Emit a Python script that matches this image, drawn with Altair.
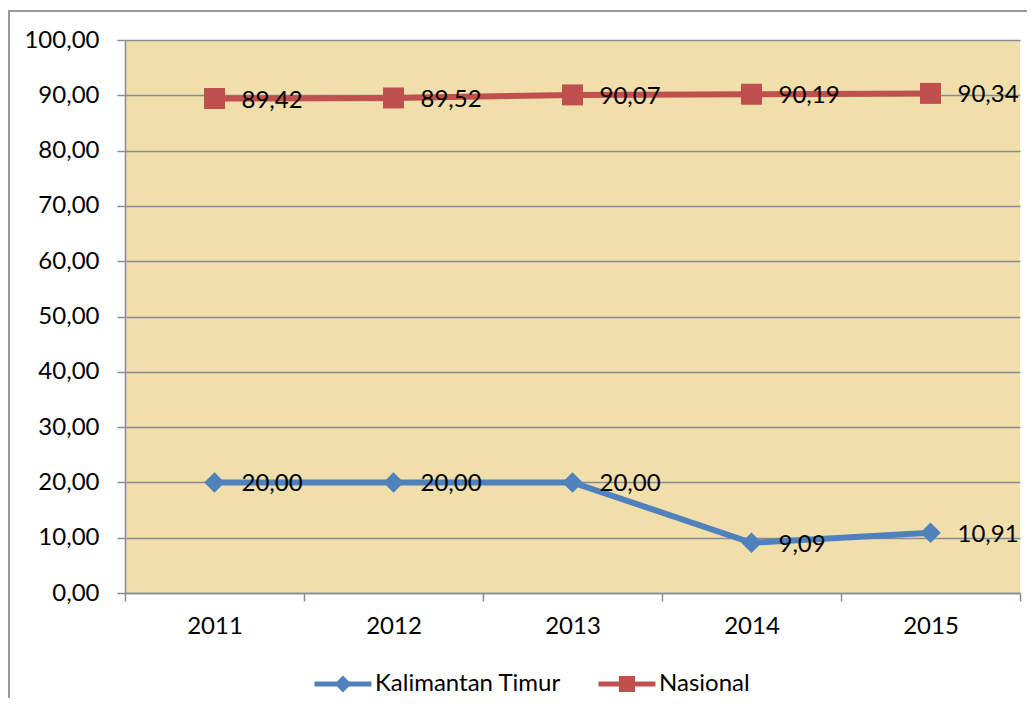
import altair as alt
import pandas as pd

years = ["2011", "2012", "2013", "2014", "2015"]
kaltim = [20.00, 20.00, 20.00, 9.09, 10.91]
nasional = [89.42, 89.52, 90.07, 90.19, 90.34]
series_names = ["Kalimantan Timur", "Nasional"]
series_colors = ["#4F81BD", "#C0504D"]

rows = []
for s, vals in zip(series_names, [kaltim, nasional]):
    for y, v in zip(years, vals):
        rows.append({"year": y, "value": v, "series": s})
df = pd.DataFrame(rows)

FONT = "Lato"
FS = 24
W, H = 895, 553
GRID = "#888C96"

x = alt.X(
    "year:O",
    scale=alt.Scale(type="band", paddingInner=0, paddingOuter=0),
    bandPosition=0.5,
    axis=alt.Axis(
        title=None, tickBand="extent", labelAngle=0, labelFont=FONT,
        labelFontSize=FS, labelColor="#000000", labelPadding=13,
        tickSize=8, tickColor=GRID, tickWidth=1.5,
        domainColor=GRID, domainWidth=1.5, grid=False,
    ),
)
y = alt.Y(
    "value:Q",
    scale=alt.Scale(domain=[0, 100], nice=False),
    axis=alt.Axis(
        title=None, values=list(range(0, 101, 10)),
        labelExpr="replace(format(datum.value, '.2f'), '.', ',')",
        labelFont=FONT, labelFontSize=FS, labelColor="#000000",
        labelPadding=18, tickSize=8, tickColor=GRID, tickWidth=1.5,
        domainColor=GRID, domainWidth=1.5,
        grid=True, gridColor=GRID, gridWidth=1.3,
    ),
)
color = alt.Color(
    "series:N",
    scale=alt.Scale(domain=series_names, range=series_colors),
)

base = alt.Chart(df)

lines = base.mark_line(strokeWidth=6).encode(x=x, y=y, color=color)

diamonds = base.transform_filter(alt.datum.series == "Kalimantan Timur").mark_point(
    shape="diamond", filled=True, size=420, opacity=1
).encode(x=x, y=y, color=color)

squares = base.transform_filter(alt.datum.series == "Nasional").mark_point(
    shape="square", filled=True, size=440, opacity=1
).encode(x=x, y=y, color=color)

labels = base.transform_calculate(
    lbl="replace(format(datum.value, '.2f'), '.', ',')"
).mark_text(
    align="left", baseline="middle", dx=27, dy=2, font=FONT, fontSize=FS, color="#000000"
).encode(x=x, y=y, text="lbl:N")

diamond_path = "M-1,-0.3 H5.7 V0.3 H-1 Z M2.35,-1 L3.35,0 L2.35,1 L1.35,0 Z"
square_path = "M-1,-0.3 H5.7 V0.3 H-1 Z M1.4,-0.95 H3.3 V0.95 H1.4 Z"

legend_cfg = dict(
    title=None, orient="none", legendX=186, legendY=632,
    direction="horizontal", symbolSize=289, symbolOpacity=1,
    symbolStrokeWidth=0, labelOffset=40, columnPadding=34, labelLimit=400,
    labelFont=FONT, labelFontSize=FS, labelColor="#000000",
)

legend_layer = base.mark_point(filled=True, size=0).encode(
    x=x, y=y,
    color=alt.Color(
        "series:N",
        scale=alt.Scale(domain=series_names, range=series_colors),
        legend=alt.Legend(**legend_cfg),
    ),
    shape=alt.Shape(
        "series:N",
        scale=alt.Scale(domain=series_names, range=[diamond_path, square_path]),
        legend=alt.Legend(**legend_cfg),
    ),
)

border_left = alt.Chart(pd.DataFrame({"a": [0]})).mark_rule(
    color="#999999", strokeWidth=2
).encode(x=alt.value(-116), y=alt.value(-29), y2=alt.value(H + 110))
border_top = alt.Chart(pd.DataFrame({"a": [0]})).mark_rule(
    color="#999999", strokeWidth=2
).encode(y=alt.value(-29), x=alt.value(-117), x2=alt.value(W + 20))

chart = alt.layer(
    border_left, border_top, lines, diamonds, squares, labels, legend_layer
).properties(
    width=W, height=H,
    autosize=alt.AutoSizeParams(type="none"),
    padding={"left": 117, "top": 32, "right": 7, "bottom": 105},
    background="#FFFFFF",
).configure_view(fill="#F0DEAB", stroke=None)

chart.save("out.html", embed_options={"renderer": "svg", "actions": False})
